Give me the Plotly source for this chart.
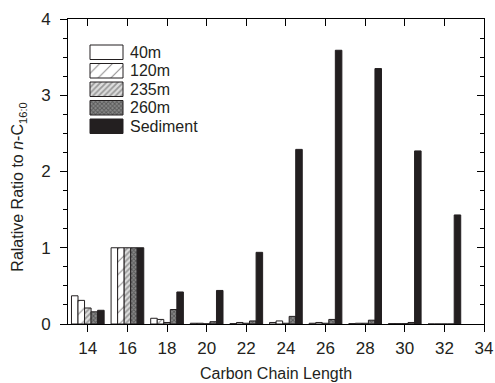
import plotly.graph_objects as go

chain = [14, 16, 18, 20, 22, 24, 26, 28, 30, 32]
series_names = ["40m", "120m", "235m", "260m", "Sediment"]
v40 = [0.37, 1.0, 0.075, 0.01, 0.005, 0.02, 0.01, 0.005, 0.005, 0.0]
v120 = [0.31, 1.0, 0.06, 0.01, 0.02, 0.04, 0.02, 0.01, 0.005, 0.0]
v235 = [0.21, 1.0, 0.02, 0.003, 0.01, 0.01, 0.01, 0.01, 0.005, 0.0]
v260 = [0.16, 1.0, 0.19, 0.03, 0.04, 0.10, 0.06, 0.05, 0.02, 0.0]
vsed = [0.18, 1.0, 0.42, 0.44, 0.94, 2.29, 3.59, 3.35, 2.27, 1.43]
values = [v40, v120, v235, v260, vsed]
x_ticks = [14, 16, 18, 20, 22, 24, 26, 28, 30, 32, 34]
y_ticks = [0, 1, 2, 3, 4]

styles = [
    dict(color="white"),
    dict(color="white", pattern=dict(shape="/", size=9, solidity=0.12, fgcolor="#231f20", bgcolor="white")),
    dict(color="#999999", pattern=dict(shape="/", size=4, solidity=0.45, fgcolor="#555555", bgcolor="#dddddd")),
    dict(color="#444444", pattern=dict(shape="x", size=3, solidity=0.55, fgcolor="#2a2a2a", bgcolor="#8a8a8a")),
    dict(color="#231f20"),
]
font_color = "#231f20"

fig = go.Figure()
for name, vals, st in zip(series_names, values, styles):
    marker = dict(color=st["color"], line=dict(color="#231f20", width=1))
    if "pattern" in st:
        marker["pattern"] = st["pattern"]
    fig.add_trace(go.Bar(x=chain, y=vals, name=name, marker=marker, showlegend=False))

# invisible trace for mirrored axes
fig.add_trace(go.Scatter(x=[13], y=[0], xaxis="x2", yaxis="y2", mode="markers",
                         marker=dict(opacity=0), showlegend=False, hoverinfo="skip"))

# custom legend drawn on a pixel-like helper axis (x3/y3) over the plot area
plot_w, plot_h = 416, 305
box_x0, box_w, box_h = 22, 33, 14.5
row_top0, row_step = 26, 18.5
annotations = []
for i, (name, st) in enumerate(zip(series_names, styles)):
    top = row_top0 + i * row_step
    xs = [box_x0, box_x0 + box_w, box_x0 + box_w, box_x0, box_x0]
    ys = [top, top, top + box_h, top + box_h, top]
    kw = dict(fillcolor=st["color"])
    if "pattern" in st:
        p = dict(st["pattern"])
        p["size"] = max(p["size"], 3)
        kw["fillpattern"] = p
    fig.add_trace(go.Scatter(x=xs, y=ys, xaxis="x3", yaxis="y3", mode="lines",
                             fill="toself", line=dict(color="#231f20", width=1),
                             showlegend=False, hoverinfo="skip", **kw))
    annotations.append(dict(text=name, xref="x3", yref="y3", x=box_x0 + box_w + 5,
                            y=top + box_h / 2, xanchor="left", yanchor="middle",
                            showarrow=False, font=dict(size=16, color=font_color)))

annotations.append(dict(text="Ralative Ratio to <i>n</i>-C<sub>16:0</sub>", textangle=-90,
                        xref="paper", yref="paper", x=-0.118, y=0.45,
                        xanchor="center", yanchor="middle", showarrow=False,
                        font=dict(size=16, color=font_color)))

fig.update_layout(
    width=495, height=383,
    margin=dict(l=68, r=11, t=19, b=59),
    paper_bgcolor="white", plot_bgcolor="white",
    barmode="group", bargap=0.175, bargroupgap=0,
    font=dict(family="Liberation Sans, Arial, sans-serif", color=font_color, size=16),
    showlegend=False,
    xaxis=dict(range=[13, 34], tickvals=x_ticks, automargin=False,
               ticks="outside", ticklen=7, tickwidth=1, tickcolor="black",
               showline=True, linecolor="black", linewidth=1, showgrid=False, zeroline=False,
               tickfont=dict(size=17), ticklabelstandoff=2,
               title=dict(text="Carbon Chain Length", font=dict(size=16), standoff=10)),
    yaxis=dict(range=[0, 4], tickvals=y_ticks, automargin=False,
               ticks="outside", ticklen=7, tickwidth=1, tickcolor="black",
               minor=dict(dtick=0.25, ticks="outside", ticklen=4, tickcolor="black"),
               showline=True, linecolor="black", linewidth=1, showgrid=False, zeroline=False,
               tickfont=dict(size=17), ticklabelstandoff=6),
    xaxis2=dict(overlaying="x", side="top", range=[13, 34], tickvals=x_ticks,
                ticks="inside", ticklen=7, tickcolor="black", showticklabels=False,
                showline=True, linecolor="black", linewidth=1, showgrid=False, zeroline=False),
    yaxis2=dict(overlaying="y", side="right", range=[0, 4], tickvals=y_ticks,
                ticks="inside", ticklen=7, tickcolor="black", showticklabels=False,
                minor=dict(dtick=0.25, ticks="inside", ticklen=4, tickcolor="black"),
                showline=True, linecolor="black", linewidth=1, showgrid=False, zeroline=False),
    xaxis3=dict(overlaying="x", range=[0, plot_w], visible=False, fixedrange=True),
    yaxis3=dict(overlaying="y", range=[plot_h, 0], visible=False, fixedrange=True),
    annotations=annotations,
)

fig.write_html("out.html")
